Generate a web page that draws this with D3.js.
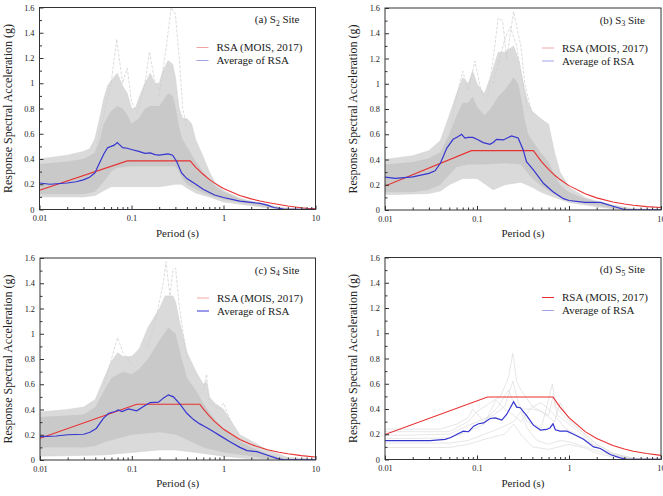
<!DOCTYPE html>
<html><head><meta charset="utf-8">
<script src="https://cdn.jsdelivr.net/npm/d3@7"></script>
<style>
body{margin:0;background:#fff}
svg{display:block}
</style></head>
<body><svg id="chart" width="663" height="496"></svg>
<script>
// ---------------- DATA ----------------
const xMajorTicks = [0.01, 0.1, 1, 10];
const xTickLabels = ["0.01", "0.1", "1", "10"];
const yMajorTicks = [0, 0.2, 0.4, 0.6, 0.8, 1, 1.2, 1.4, 1.6];
const yTickLabels = ["0", "0.2", "0.4", "0.6", "0.8", "1", "1.2", "1.4", "1.6"];
const panelLetters = ["(a) S", "(b) S", "(c) S", "(d) S"];
const panelSubs = ["2", "3", "4", "5"];
const legendLabels = ["RSA (MOIS, 2017)", "Average of RSA"];
const xTitle = "Period (s)";
const yTitle = "Response Spectral Acceleration (g)";

// S2 site
const s2Rsa = [[0.01,0.153],[0.09,0.385],[0.434,0.385],[0.5,0.334],[0.6,0.279],[0.7,0.239],[0.8,0.209],[1,0.167],[1.5,0.111],[2,0.084],[2.5,0.067],[3,0.056],[4,0.04],[5,0.028],[6,0.02],[7,0.014],[8,0.01],[10,0.006]];
const s2Avg = [[0.01,0.21],[0.013,0.2],[0.02,0.21],[0.025,0.22],[0.03,0.235],[0.035,0.255],[0.04,0.29],[0.045,0.37],[0.05,0.44],[0.055,0.49],[0.06,0.5],[0.065,0.51],[0.07,0.53],[0.075,0.51],[0.08,0.49],[0.09,0.485],[0.1,0.475],[0.12,0.46],[0.14,0.445],[0.16,0.448],[0.18,0.435],[0.2,0.43],[0.25,0.44],[0.28,0.43],[0.31,0.38],[0.35,0.29],[0.4,0.245],[0.5,0.2],[0.6,0.16],[0.8,0.115],[1,0.095],[1.5,0.066],[2,0.056],[2.5,0.048],[3,0.035],[3.5,0.016],[4.5,0.004],[6,0.002],[10,0.001]];
const s2OuterUpper = [[0.01,0.4],[0.02,0.43],[0.03,0.46],[0.035,0.48],[0.04,0.56],[0.045,0.72],[0.05,0.88],[0.055,0.98],[0.06,1.02],[0.07,1.08],[0.08,0.98],[0.09,0.92],[0.1,0.8],[0.11,0.8],[0.12,0.88],[0.14,1.0],[0.16,1.08],[0.18,1.0],[0.2,1.0],[0.22,1.1],[0.25,1.18],[0.28,1.15],[0.3,1.05],[0.33,0.8],[0.36,0.72],[0.4,0.72],[0.45,0.68],[0.5,0.55],[0.6,0.42],[0.7,0.3],[0.8,0.22],[1,0.15],[1.5,0.09],[2,0.065],[3,0.04],[4,0.02],[5,0.01],[7,0.005],[10,0.003]];
const s2CoreUpper = [[0.01,0.36],[0.02,0.38],[0.03,0.4],[0.04,0.45],[0.045,0.55],[0.05,0.68],[0.06,0.78],[0.07,0.82],[0.08,0.8],[0.09,0.75],[0.1,0.68],[0.12,0.72],[0.14,0.8],[0.16,0.82],[0.2,0.82],[0.25,0.92],[0.28,0.9],[0.3,0.82],[0.33,0.65],[0.36,0.55],[0.4,0.5],[0.5,0.38],[0.6,0.3],[0.7,0.24],[0.8,0.19],[1,0.14],[1.5,0.085],[2,0.06],[3,0.035],[4,0.015],[5,0.006],[10,0.002]];
const s2CoreLower = [[0.01,0.12],[0.03,0.12],[0.04,0.14],[0.05,0.22],[0.06,0.3],[0.07,0.33],[0.1,0.34],[0.2,0.34],[0.3,0.34],[0.33,0.3],[0.36,0.24],[0.4,0.2],[0.5,0.16],[0.6,0.13],[0.8,0.1],[1,0.08],[1.5,0.055],[2,0.04],[3,0.02],[4,0.008],[5,0.002],[10,0.001]];
const s2OuterLower = [[0.01,0.1],[0.03,0.1],[0.04,0.11],[0.05,0.15],[0.06,0.18],[0.1,0.18],[0.2,0.18],[0.3,0.2],[0.35,0.2],[0.4,0.17],[0.5,0.13],[0.7,0.1],[1,0.06],[2,0.03],[3,0.012],[5,0.001],[10,0]];
const s2Spikes = [
  [[0.04,0.45],[0.05,0.75],[0.06,1.0],[0.069,1.35],[0.08,1.0],[0.09,1.12],[0.1,0.85],[0.12,0.75]],
  [[0.12,0.8],[0.14,1.0],[0.157,1.25],[0.18,1.0],[0.2,0.95]],
  [[0.2,0.9],[0.24,1.3],[0.27,1.6],[0.3,1.55],[0.33,1.2],[0.36,0.8],[0.4,0.65]]
];

// S3 site
const s3Rsa = [[0.01,0.19],[0.087,0.47],[0.41,0.47],[0.5,0.385],[0.6,0.321],[0.7,0.275],[0.8,0.241],[1,0.193],[1.5,0.128],[2,0.096],[3,0.064],[4,0.048],[5,0.038],[7,0.027],[10,0.02]];
const s3Avg = [[0.01,0.26],[0.013,0.25],[0.02,0.262],[0.03,0.29],[0.035,0.31],[0.04,0.37],[0.047,0.49],[0.055,0.56],[0.062,0.58],[0.068,0.6],[0.074,0.57],[0.08,0.575],[0.09,0.575],[0.1,0.56],[0.117,0.534],[0.138,0.52],[0.15,0.535],[0.163,0.56],[0.193,0.555],[0.237,0.587],[0.28,0.57],[0.318,0.476],[0.345,0.383],[0.41,0.317],[0.53,0.21],[0.67,0.145],[0.87,0.09],[1,0.075],[1.5,0.06],[2.2,0.06],[3,0.03],[4,0.004],[5,0.002],[10,0.001]];
const s3OuterUpper = [[0.01,0.4],[0.02,0.43],[0.03,0.47],[0.04,0.55],[0.05,0.75],[0.06,0.92],[0.07,1.05],[0.08,1.0],[0.09,1.1],[0.1,1.0],[0.12,0.92],[0.14,1.05],[0.17,1.25],[0.2,1.25],[0.25,1.3],[0.28,1.2],[0.3,1.1],[0.33,0.95],[0.36,0.85],[0.4,0.78],[0.5,0.72],[0.6,0.68],[0.7,0.45],[0.8,0.3],[1,0.18],[1.5,0.1],[2,0.07],[3,0.04],[5,0.01],[10,0.003]];
const s3CoreUpper = [[0.01,0.36],[0.02,0.38],[0.03,0.41],[0.04,0.46],[0.05,0.6],[0.06,0.75],[0.07,0.85],[0.08,0.85],[0.09,0.9],[0.1,0.82],[0.12,0.75],[0.14,0.8],[0.17,0.9],[0.2,0.95],[0.25,1.05],[0.28,1.0],[0.3,0.9],[0.33,0.72],[0.36,0.6],[0.4,0.55],[0.5,0.45],[0.6,0.38],[0.7,0.28],[0.8,0.2],[1,0.14],[1.5,0.09],[2,0.065],[3,0.035],[4,0.015],[5,0.006],[10,0.002]];
const s3CoreLower = [[0.01,0.14],[0.02,0.14],[0.03,0.16],[0.04,0.2],[0.05,0.28],[0.06,0.34],[0.08,0.36],[0.12,0.36],[0.2,0.37],[0.3,0.36],[0.35,0.3],[0.4,0.25],[0.5,0.19],[0.6,0.15],[0.8,0.1],[1,0.075],[1.5,0.05],[2,0.035],[3,0.015],[4,0.004],[10,0.001]];
const s3OuterLower = [[0.01,0.12],[0.03,0.13],[0.04,0.15],[0.05,0.2],[0.07,0.25],[0.1,0.25],[0.15,0.16],[0.2,0.2],[0.3,0.22],[0.4,0.18],[0.5,0.14],[0.7,0.1],[1,0.06],[2,0.025],[3,0.01],[5,0.001],[10,0]];
const s3Spikes = [
  [[0.05,0.6],[0.06,0.9],[0.07,1.1],[0.08,0.95],[0.095,1.18],[0.11,0.95],[0.13,0.85]],
  [[0.13,0.9],[0.15,1.2],[0.17,1.52],[0.19,1.5],[0.21,1.2],[0.25,1.57],[0.28,1.4],[0.3,1.3],[0.33,1.0],[0.4,0.75]],
  [[0.15,1.0],[0.2,1.35],[0.23,1.45],[0.27,1.3],[0.3,1.1],[0.35,0.8]]
];

// S4 site
const s4Rsa = [[0.01,0.172],[0.113,0.442],[0.55,0.442],[0.6,0.405],[0.7,0.347],[0.8,0.304],[1,0.243],[1.5,0.162],[2,0.122],[3,0.081],[4,0.061],[5,0.049],[7,0.035],[10,0.024]];
const s4Avg = [[0.01,0.185],[0.015,0.19],[0.02,0.2],[0.03,0.204],[0.035,0.22],[0.041,0.25],[0.049,0.33],[0.056,0.37],[0.066,0.384],[0.071,0.397],[0.078,0.384],[0.092,0.405],[0.113,0.39],[0.134,0.423],[0.158,0.455],[0.195,0.458],[0.22,0.49],[0.25,0.516],[0.284,0.5],[0.336,0.44],[0.397,0.37],[0.47,0.32],[0.55,0.286],[0.62,0.265],[0.65,0.257],[0.77,0.225],[0.91,0.193],[1.17,0.145],[1.5,0.1],[1.8,0.074],[2.3,0.066],[2.95,0.04],[3.8,0.013],[4.5,0.002],[10,0.001]];
const s4OuterUpper = [[0.01,0.38],[0.02,0.4],[0.03,0.42],[0.04,0.48],[0.05,0.65],[0.06,0.78],[0.07,0.85],[0.08,0.82],[0.1,0.82],[0.12,0.88],[0.15,1.05],[0.2,1.2],[0.23,1.3],[0.28,1.3],[0.3,1.25],[0.33,1.1],[0.4,0.85],[0.5,0.7],[0.6,0.6],[0.65,0.62],[0.7,0.5],[0.8,0.45],[1,0.4],[1.5,0.2],[2,0.15],[3,0.08],[5,0.02],[10,0.005]];
const s4CoreUpper = [[0.01,0.34],[0.03,0.36],[0.04,0.42],[0.05,0.55],[0.06,0.65],[0.08,0.7],[0.1,0.68],[0.12,0.72],[0.15,0.8],[0.2,0.95],[0.25,1.05],[0.3,1.0],[0.35,0.8],[0.4,0.65],[0.5,0.55],[0.6,0.45],[0.7,0.38],[0.8,0.32],[1,0.25],[1.5,0.15],[2,0.1],[3,0.05],[4,0.02],[5,0.01],[10,0.003]];
const s4CoreLower = [[0.01,0.1],[0.03,0.1],[0.04,0.11],[0.05,0.14],[0.07,0.17],[0.1,0.2],[0.2,0.22],[0.3,0.2],[0.4,0.16],[0.6,0.1],[1,0.06],[2,0.03],[3,0.01],[5,0.002],[10,0.001]];
const s4OuterLower = [[0.01,0.03],[0.05,0.04],[0.1,0.06],[0.2,0.08],[0.3,0.08],[0.5,0.06],[1,0.03],[2,0.01],[10,0]];
const s4Spikes = [
  [[0.05,0.6],[0.06,0.8],[0.07,0.97],[0.08,0.85],[0.09,0.8],[0.1,0.75]],
  [[0.15,0.9],[0.18,1.1],[0.22,1.4],[0.235,1.57],[0.26,1.3],[0.28,1.5],[0.3,1.52],[0.33,1.2],[0.4,0.8]],
  [[0.5,0.5],[0.6,0.55],[0.65,0.68],[0.7,0.45],[0.9,0.4],[1,0.45],[1.2,0.3]]
];

// S5 site
const s5Rsa = [[0.01,0.198],[0.13,0.495],[0.67,0.495],[0.8,0.415],[1,0.332],[1.5,0.221],[2,0.166],[3,0.111],[4,0.083],[5,0.066],[7,0.047],[10,0.033]];
const s5Avg = [[0.01,0.15],[0.02,0.15],[0.031,0.15],[0.045,0.16],[0.051,0.172],[0.06,0.198],[0.071,0.225],[0.081,0.22],[0.092,0.264],[0.104,0.283],[0.118,0.29],[0.139,0.325],[0.158,0.33],[0.186,0.312],[0.21,0.357],[0.25,0.457],[0.27,0.415],[0.295,0.41],[0.35,0.344],[0.41,0.272],[0.49,0.233],[0.57,0.238],[0.62,0.25],[0.67,0.283],[0.71,0.235],[0.8,0.225],[0.95,0.225],[1.12,0.2],[1.44,0.16],[1.85,0.1],[2.19,0.087],[2.8,0.04],[3.6,0.013],[4.25,0.002],[10,0.001]];
const s5Records = [
  [[0.01,0.22],[0.05,0.22],[0.08,0.3],[0.1,0.38],[0.14,0.45],[0.18,0.5],[0.22,0.65],[0.245,0.84],[0.27,0.62],[0.3,0.55],[0.4,0.42],[0.6,0.35],[0.67,0.5],[0.75,0.35],[1,0.28],[1.5,0.18],[2,0.1],[3,0.04],[5,0.005],[10,0]],
  [[0.01,0.19],[0.05,0.2],[0.07,0.25],[0.1,0.3],[0.15,0.35],[0.2,0.42],[0.245,0.62],[0.28,0.45],[0.35,0.3],[0.5,0.25],[0.66,0.6],[0.72,0.42],[1,0.3],[1.5,0.2],[2,0.12],[3,0.05],[5,0.01],[10,0]],
  [[0.01,0.165],[0.05,0.17],[0.08,0.22],[0.12,0.28],[0.16,0.47],[0.2,0.4],[0.25,0.35],[0.3,0.3],[0.4,0.42],[0.5,0.45],[0.6,0.4],[0.7,0.35],[0.9,0.25],[1.2,0.2],[2,0.1],[3,0.04],[5,0.005],[10,0]],
  [[0.01,0.13],[0.05,0.13],[0.08,0.15],[0.12,0.2],[0.18,0.25],[0.25,0.3],[0.3,0.38],[0.35,0.25],[0.45,0.15],[0.6,0.12],[0.8,0.15],[1,0.14],[1.5,0.1],[2,0.07],[3,0.03],[5,0.004],[10,0]],
  [[0.01,0.095],[0.05,0.095],[0.08,0.12],[0.12,0.16],[0.2,0.2],[0.25,0.28],[0.3,0.2],[0.4,0.1],[0.6,0.08],[1,0.12],[1.5,0.09],[2,0.05],[3,0.02],[5,0.002],[10,0]],
  [[0.01,0.24],[0.04,0.24],[0.06,0.28],[0.08,0.33],[0.09,0.4],[0.12,0.3],[0.17,0.42],[0.22,0.55],[0.25,0.45],[0.3,0.4],[0.4,0.4],[0.5,0.38],[0.7,0.3],[0.8,0.45],[1,0.32],[1.5,0.2],[2,0.12],[3,0.05],[5,0.01],[10,0]]
];

// ---------------- FONT PICK ----------------
function pickFont(cands) {
  const c = document.createElement("canvas").getContext("2d");
  const s = "Response Spectral Acceleration (g) 0.01";
  c.font = "40px monospace"; const base = c.measureText(s).width;
  for (const f of cands) {
    c.font = `40px "${f}", monospace`;
    if (Math.abs(c.measureText(s).width - base) > 0.5) return `"${f}"`;
  }
  return "serif";
}
const FONT = pickFont(["Liberation Serif", "Times New Roman", "Tinos", "Nimbus Roman", "DejaVu Serif", "Noto Serif"]) + ", serif";

// ---------------- LAYOUT ----------------
const panels = [
  {left:39.5, top:7.5, w:276, h:202, rsa:s2Rsa, avg:s2Avg, ou:s2OuterUpper, cu:s2CoreUpper, cl:s2CoreLower, ol:s2OuterLower, spikes:s2Spikes, legRed:"#f2a4a4", legBlue:"#a3a3ea"},
  {left:385, top:8, w:276, h:202, rsa:s3Rsa, avg:s3Avg, ou:s3OuterUpper, cu:s3CoreUpper, cl:s3CoreLower, ol:s3OuterLower, spikes:s3Spikes, legRed:"#f2a4a4", legBlue:"#a3a3ea"},
  {left:40, top:258, w:275.5, h:202, rsa:s4Rsa, avg:s4Avg, ou:s4OuterUpper, cu:s4CoreUpper, cl:s4CoreLower, ol:s4OuterLower, spikes:s4Spikes, legRed:"#f2a4a4", legBlue:"#3535d0"},
  {left:385, top:257.5, w:276, h:202, rsa:s5Rsa, avg:s5Avg, records:s5Records, legRed:"#e83030", legBlue:"#a3a3ea"}
];
const RED = "#e83030", BLUE = "#3535d0";

const svg = d3.select("#chart");
const minorX = [];
[0.01,0.1,1].forEach(d => { for (let k=2;k<=9;k++) minorX.push(d*k); });
const minorY = d3.range(0.1, 1.6, 0.2);

panels.forEach((p, i) => {
  const g = svg.append("g").attr("transform", `translate(${p.left},${p.top})`);
  const x = d3.scaleLog().domain([0.01, 10]).range([0, p.w]);
  const y = d3.scaleLinear().domain([0, 1.6]).range([p.h, 0]);
  const line = d3.line().x(d => x(d[0])).y(d => y(d[1]));

  const clipId = "clip" + i;
  g.append("clipPath").attr("id", clipId).append("rect").attr("width", p.w).attr("height", p.h);
  const plot = g.append("g").attr("clip-path", `url(#${clipId})`);

  const band = (upper, lower) => line(upper.concat(lower.slice().reverse())) + "Z";
  if (p.ou) {
    plot.append("path").attr("d", band(p.ou, p.ol)).attr("fill", "#dadada").attr("stroke", "#d0d0d0").attr("stroke-width", 0.5);
    plot.append("path").attr("d", band(p.cu, p.cl)).attr("fill", "#c9c9c9").attr("stroke", "none");
    p.spikes.forEach(s => plot.append("path").attr("d", line(s)).attr("fill", "none").attr("stroke", "#cdcdcd").attr("stroke-width", 0.7).attr("stroke-dasharray", "3,1.5"));
  }
  if (p.records) {
    p.records.forEach(s => plot.append("path").attr("d", line(s)).attr("fill", "none").attr("stroke", "#dcdcdc").attr("stroke-width", 0.7));
  }
  plot.append("path").attr("d", line(p.rsa)).attr("fill", "none").attr("stroke", RED).attr("stroke-width", 1.1);
  plot.append("path").attr("d", line(p.avg)).attr("fill", "none").attr("stroke", BLUE).attr("stroke-width", 1.2);

  // axes (inward ticks)
  const xAxis = d3.axisBottom(x).tickValues(xMajorTicks).tickFormat((d, k) => xTickLabels[k]).tickSize(-4).tickPadding(6);
  const xMinor = d3.axisBottom(x).tickValues(minorX).tickFormat("").tickSize(-2.5);
  const yAxis = d3.axisLeft(y).tickValues(yMajorTicks).tickFormat((d, k) => yTickLabels[k]).tickSize(-4).tickPadding(5);
  const yMinor = d3.axisLeft(y).tickValues(minorY).tickFormat("").tickSize(-2.5);
  [g.append("g").attr("transform", `translate(0,${p.h})`).call(xAxis),
   g.append("g").attr("transform", `translate(0,${p.h})`).call(xMinor),
   g.append("g").call(yAxis),
   g.append("g").call(yMinor)].forEach(a => {
    a.attr("font-family", null).attr("font-size", null);
    a.select(".domain").remove();
    a.selectAll("line").attr("stroke", "#333");
    a.selectAll("text").attr("font-size", 8.3).attr("fill", "#222").attr("font-family", FONT);
  });
  g.append("rect").attr("width", p.w).attr("height", p.h).attr("fill", "none").attr("stroke", "#333").attr("stroke-width", 1);

  // titles
  g.append("text").attr("x", p.w / 2).attr("y", p.h + 27).attr("text-anchor", "middle").attr("font-size", 11).attr("font-family", FONT).attr("fill", "#222").text(xTitle);
  g.append("text").attr("transform", `translate(${-28},${p.h / 2}) rotate(-90)`).attr("text-anchor", "middle").attr("font-size", 12).attr("font-family", FONT).attr("fill", "#222").text(yTitle);

  // panel label
  const t = g.append("text").attr("x", p.w - 16).attr("y", 15.5).attr("text-anchor", "end").attr("font-size", 11).attr("font-family", FONT).attr("fill", "#222");
  t.append("tspan").text(panelLetters[i]);
  t.append("tspan").attr("font-size", 7.5).attr("dy", 2.5).text(panelSubs[i]);
  t.append("tspan").attr("dy", -2.5).text(" Site");

  // legend
  const lg = g.append("g");
  [[legendLabels[0], p.legRed, 40], [legendLabels[1], p.legBlue, 53]].forEach(([lab, col, ly]) => {
    lg.append("line").attr("x1", 157).attr("x2", 169).attr("y1", ly).attr("y2", ly).attr("stroke", col).attr("stroke-width", 1);
    lg.append("text").attr("x", 177).attr("y", ly + 3.8).attr("font-size", 11).attr("font-family", FONT).attr("fill", "#222").text(lab);
  });
});
</script></body></html>
